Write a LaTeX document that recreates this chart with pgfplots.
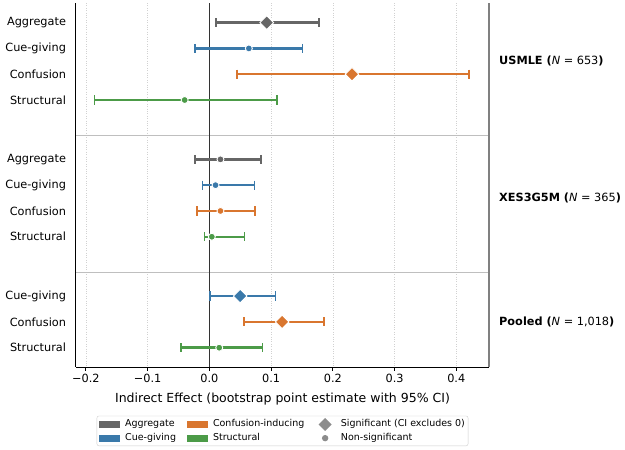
\documentclass[border=0pt]{standalone}
\usepackage{fontspec}
\setmainfont{DejaVu Sans}
\usepackage{pgfplots}
\pgfplotsset{compat=1.18}
\definecolor{cagg}{HTML}{666666}
\definecolor{ccue}{HTML}{3A79AA}
\definecolor{cconf}{HTML}{D9762F}
\definecolor{cstr}{HTML}{4C9B48}
\definecolor{cleg}{HTML}{8C8C8C}
\newcommand\fs{\fontsize{11.3}{13.5}\selectfont}
\newcommand\xfs{\fontsize{12.5}{15}\selectfont}
\newcommand\lfs{\fontsize{9.5}{11}\selectfont}
% colour, y, estimate, lower, upper
\newcommand\ci[5]{%
  \addplot[#1, line width=2.4pt, mark=|, mark size=4.6pt, mark options={solid, line width=1.8pt}, forget plot]
    coordinates {(#4,#2) (#5,#2)};}
\newcommand\sig[3]{%
  \addplot[only marks, mark=square*, mark size=4.8pt, mark options={rotate=45, fill=#1, draw=white, line width=0.9pt}, forget plot]
    coordinates {(#3,#2)};}
\newcommand\nsig[3]{%
  \addplot[only marks, mark=*, mark size=3.5pt, mark options={fill=#1, draw=white, line width=0.9pt}, forget plot]
    coordinates {(#3,#2)};}
\begin{document}
\begin{tikzpicture}
\useasboundingbox (0pt,0pt) rectangle (625pt,450pt);
\begin{axis}[
  at={(76pt,82.7pt)}, anchor=south west,
  width=413pt, height=364.3pt, scale only axis,
  xmin=-0.216, xmax=0.453,
  ymin=-0.76, ymax=13.36, y dir=reverse,
  axis x line*=bottom, axis y line*=left,
  axis line style={line width=1pt, black},
  xtick={-0.2,-0.1,0,0.1,0.2,0.3,0.4},
  xticklabels={−0.2,−0.1,0.0,0.1,0.2,0.3,0.4},
  ytick={0,1,2,3,5.3,6.3,7.3,8.3,10.6,11.6,12.6},
  yticklabels={Aggregate,Cue-giving,Confusion,Structural,Aggregate,Cue-giving,Confusion,Structural,Cue-giving,Confusion,Structural},
  tick align=outside, major tick length=3.5pt,
  xtick style={black, line width=0.8pt},
  ytick style={draw=none},
  ticklabel style={font=\fs},
  yticklabel style={xshift=-3pt},
  xlabel={Indirect Effect (bootstrap point estimate with 95\% CI)},
  xlabel style={font=\xfs, yshift=-3pt},
  xmajorgrids, grid style={dotted, black!18, line width=0.6pt},
  clip=false,
  legend columns=3, legend cell align=left,
  legend style={at={(0.5,-0.133)}, anchor=north, font=\lfs, draw=black!20, rounded corners=2pt,
    inner xsep=2pt, inner ysep=2pt,
    nodes={inner sep=1.2pt, text height=7pt, text depth=2pt},
    row sep=1.5pt,
    /tikz/every odd column/.append style={column sep=4.6pt},
    /tikz/every even column/.append style={column sep=9.6pt}},
]
\addlegendimage{legend image code/.code={\fill[cagg, sharp corners] (0pt,-3.2pt) rectangle (20pt,3.2pt);}}
\addlegendentry{Aggregate}
\addlegendimage{legend image code/.code={\fill[cconf, sharp corners] (0pt,-3.2pt) rectangle (20pt,3.2pt);}}
\addlegendentry{Confusion-inducing}
\addlegendimage{legend image code/.code={\path[draw=none, fill=none] (0pt,0pt) rectangle (20pt,0pt); \fill[cleg, draw=none, sharp corners, shift={(10pt,0pt)}, rotate=45] (-4.6pt,-4.6pt) rectangle (4.6pt,4.6pt);}}
\addlegendentry{Significant (CI excludes 0)}
\addlegendimage{legend image code/.code={\fill[ccue, sharp corners] (0pt,-3.2pt) rectangle (20pt,3.2pt);}}
\addlegendentry{Cue-giving}
\addlegendimage{legend image code/.code={\fill[cstr, sharp corners] (0pt,-3.2pt) rectangle (20pt,3.2pt);}}
\addlegendentry{Structural}
\addlegendimage{legend image code/.code={\path[draw=none, fill=none] (0pt,0pt) rectangle (20pt,0pt); \fill[cleg, draw=none] (10pt,0pt) circle (3.2pt);}}
\addlegendentry{Non-significant}

\draw[black!25, line width=1pt] (axis cs:-0.216,4.39) -- (axis cs:0.453,4.39);
\draw[black!25, line width=1pt] (axis cs:-0.216,9.67) -- (axis cs:0.453,9.67);
\draw[black!80, line width=1.1pt] (axis cs:0,-0.76) -- (axis cs:0,13.36);
\draw[black!50, line width=1.4pt] (axis cs:0.453,-0.76) -- (axis cs:0.453,13.36);

% USMLE
\ci{cagg}{0}{0.093}{0.011}{0.177}   \sig{cagg}{0}{0.093}
\ci{ccue}{1}{0.064}{-0.023}{0.151}  \nsig{ccue}{1}{0.064}
\ci{cconf}{2}{0.231}{0.045}{0.420}  \sig{cconf}{2}{0.231}
\ci{cstr}{3}{-0.040}{-0.186}{0.109} \nsig{cstr}{3}{-0.040}
% XES3G5M
\ci{cagg}{5.3}{0.018}{-0.023}{0.084}  \nsig{cagg}{5.3}{0.018}
\ci{ccue}{6.3}{0.010}{-0.011}{0.073}  \nsig{ccue}{6.3}{0.010}
\ci{cconf}{7.3}{0.018}{-0.020}{0.074} \nsig{cconf}{7.3}{0.018}
\ci{cstr}{8.3}{0.004}{-0.008}{0.057}  \nsig{cstr}{8.3}{0.004}
% Pooled
\ci{ccue}{10.6}{0.050}{0.001}{0.107}  \sig{ccue}{10.6}{0.050}
\ci{cconf}{11.6}{0.118}{0.056}{0.186} \sig{cconf}{11.6}{0.118}
\ci{cstr}{12.6}{0.016}{-0.046}{0.086} \nsig{cstr}{12.6}{0.016}

\node[anchor=west, font=\fs, inner sep=0pt, xshift=10pt] at (axis cs:0.453,1.5) {\textbf{USMLE (}\textit{N} = 653\textbf{)}};
\node[anchor=west, font=\fs, inner sep=0pt, xshift=10pt] at (axis cs:0.453,6.8) {\textbf{XES3G5M (}\textit{N} = 365\textbf{)}};
\node[anchor=west, font=\fs, inner sep=0pt, xshift=10pt] at (axis cs:0.453,11.6) {\textbf{Pooled (}\textit{N} = 1,018\textbf{)}};
\end{axis}
\end{tikzpicture}
\end{document}
